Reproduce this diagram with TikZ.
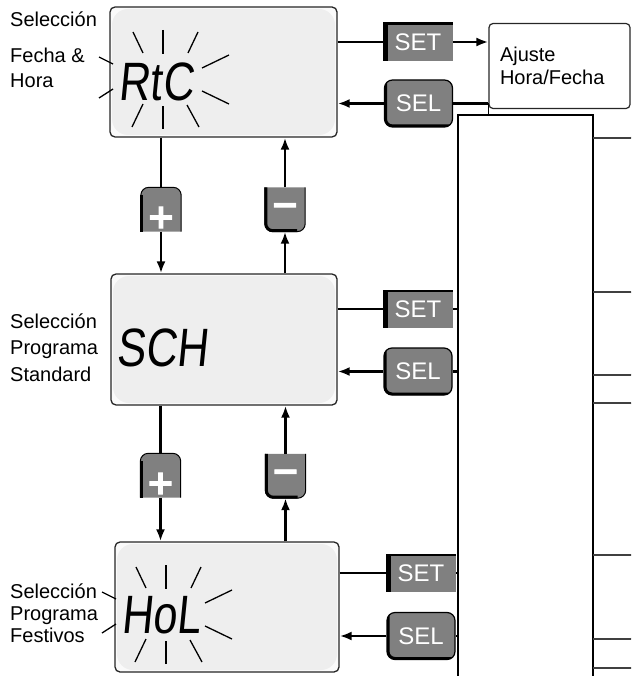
\documentclass[tikz,border=0pt]{standalone}
\usepackage{fontspec}
\setmainfont{Liberation Sans}
\newfontfamily\lcdfont[FakeStretch=0.8,FakeSlant=0.1]{Liberation Sans}
\newfontfamily\keyfont[BoldFeatures={FakeBold=2.5}]{DejaVu Sans}
\usetikzlibrary{arrows.meta,calc}

\definecolor{keygray}{HTML}{808080}
\definecolor{lcdgray}{HTML}{EEEEEE}
\definecolor{lcdrim}{HTML}{FAFAFA}

% +/- keys: gray cap, rounded on one side, dark shadow on the left
\newcommand{\pluskey}[2]{%
  \node[keybox] (#1) at (#2) {};
  \filldraw[fill=keygray, draw=black, line width=1pt]
    (#1.south west) -- ([yshift=-8pt]#1.north west)
    arc[start angle=180, end angle=90, radius=8pt]
    -- ([xshift=-8pt]#1.north east)
    arc[start angle=90, end angle=0, radius=8pt]
    -- (#1.south east);
  \draw[line width=3pt] ([xshift=1pt]#1.south west) -- ([xshift=1pt,yshift=-8pt]#1.north west);
  \node[keyglyph] (#1-sign) at ([yshift=-8pt]#1.center) {+};
}
\newcommand{\minuskey}[2]{%
  \node[keybox] (#1) at (#2) {};
  \filldraw[fill=keygray, draw=black, line width=1pt]
    (#1.north west) -- ([yshift=8pt]#1.south west)
    arc[start angle=180, end angle=270, radius=8pt]
    -- ([xshift=-8pt]#1.south east)
    arc[start angle=270, end angle=360, radius=8pt]
    -- (#1.north east);
  \draw[line width=3pt] ([xshift=1pt]#1.north west) -- ([xshift=1pt,yshift=8pt]#1.south west)
    arc[start angle=180, end angle=270, radius=7pt] -- ([xshift=-8pt,yshift=1pt]#1.south east);
  \node[keyglyph] (#1-sign) at (#1.center) {−};
}
% flashing rays round a display text
\newcommand{\blink}[1]{%
  \foreach \xa/\ya/\xb/\yb in {0/-50/0/-26, -30/-48/-20/-27, 35/-48/25/-27,
      66/-25/39/-12, 66/24/39/11, -31/47/-20/24, 0/49/0/26, 36/47/24/25,
      -64/-23/-50/-16, -64/18/-50/9}
    \draw[ray] ($(#1)+(\xa,\ya)$) -- ($(#1)+(\xb,\yb)$);
}

\begin{document}
\begin{tikzpicture}[
    x=1pt, y=-1pt,
    lbl/.style={font=\fontsize{20}{24}\selectfont, align=left, inner sep=0pt, anchor=north west},
    lcd/.style={draw=black!85, line width=1.3pt, rounded corners=5pt, fill=lcdrim,
      path picture={\fill[lcdgray, rounded corners=16pt]
        ([shift={(2pt,-2pt)}]path picture bounding box.north west) rectangle
        ([shift={(-2pt,2pt)}]path picture bounding box.south east);}},
    segtext/.style={font=\lcdfont\fontsize{54}{54}\selectfont, inner sep=0pt},
    setkey/.style={fill=keygray, text=white, font=\fontsize{24}{24}\selectfont, inner sep=0pt,
      minimum width=70pt, minimum height=38pt,
      path picture={\draw[line width=9pt] (path picture bounding box.south west) -- (path picture bounding box.north west);
        \draw[line width=4pt] (path picture bounding box.north west) -- (path picture bounding box.north east);}},
    selkey/.style={fill=keygray, draw=black, line width=1.2pt, rounded corners=8pt, text=white,
      font=\fontsize{24}{24}\selectfont, inner sep=0pt, minimum width=68pt, minimum height=47pt,
      path picture={\draw[line width=5pt] (path picture bounding box.north west) -- (path picture bounding box.south west) -- (path picture bounding box.south east);}},
    keybox/.style={minimum width=40pt, minimum height=44pt, inner sep=0pt},
    keyglyph/.style={text=white, font=\keyfont\bfseries\fontsize{34}{34}\selectfont, inner sep=0pt},
    plainbox/.style={draw=black!85, line width=1.2pt, rounded corners=4pt},
    frame/.style={draw, line width=1.8pt},
    stub/.style={draw=black!75, line width=1.6pt},
    link/.style={line width=2.6pt},
    arrow/.style={link, -{Latex[length=12pt,width=9pt]}},
    ray/.style={line width=1.3pt},
  ]
  \useasboundingbox (0,0) rectangle (631,676);
  \clip (0,0) rectangle (631,676);

  % displays
  \node[lcd, minimum width=227pt, minimum height=130pt] (lcdA) at (223.5,72) {};
  \node[lcd, minimum width=226pt, minimum height=131pt] (lcdB) at (224,339.5) {};
  \node[lcd, minimum width=224pt, minimum height=130pt] (lcdC) at (227,607) {};
  \node[segtext] (rtc) at (156,82) {RtC};
  \node[segtext] (sch) at (162,347.5) {SCH};
  \node[segtext] (hol) at (161,615) {HoL};
  \coordinate (rtcmid) at (163,80);
  \coordinate (holmid) at (166,615);
  \blink{rtcmid}
  \blink{holmid}

  % side labels
  \node[lbl] (tagA) at (10,12) {Selección};
  \node[lbl, font=\fontsize{20}{25}\selectfont] (tagB) at (10,47.5) {Fecha \&\\Hora};
  \node[lbl, font=\fontsize{20}{26.5}\selectfont] (tagC) at (10,313.5) {Selección\\Programa\\Standard};
  \node[lbl, font=\fontsize{20}{22}\selectfont] (tagD) at (10,583.5) {Selección\\Programa\\Festivos};

  % right hand blocks
  \node[plainbox, text width=119pt, align=left, inner xsep=11pt, minimum height=85pt,
        font=\fontsize{20}{23}\selectfont] (ajuste) at (559.5,66) {Ajuste\\Hora/Fecha};
  \node[frame, minimum width=135pt, minimum height=585pt] (bigbox) at (525.5,407.5) {};
  \foreach \y/\s in {138/-1, 292/1, 375/-1, 403/1, 639/-1}
    \draw[stub, rounded corners=4pt] (593,\y) -- (634.5,\y) -- (634.5,\y+10*\s);
  \foreach \y in {555, 668}
    \draw[stub] (593,\y) -- (632,\y);

  % keys
  \node[setkey] (setA) at (418,42) {SET};
  \node[selkey] (selA) at (418.5,103.5) {SEL};
  \node[setkey] (setB) at (418,309) {SET};
  \node[selkey] (selB) at (418,371.5) {SEL};
  \node[setkey] (setC) at (421,573) {SET};
  \node[selkey] (selC) at (421,636) {SEL};
  \pluskey{plusA}{161,209.5}
  \minuskey{minusA}{285,209.5}
  \pluskey{plusB}{160.5,475.5}
  \minuskey{minusB}{285.5,476}

  % up / down
  \draw[link] (lcdA.south -| plusA) -- (plusA);
  \draw[arrow] (plusA) -- (plusA |- lcdB.north);
  \draw[arrow] (minusA |- lcdB.north) -- (minusA);
  \draw[arrow] (minusA) -- (minusA |- lcdA.south);
  \draw[link] (lcdB.south -| plusB) -- (plusB);
  \draw[arrow] (plusB) -- (plusB |- lcdC.north);
  \draw[arrow] (minusB |- lcdC.north) -- (minusB);
  \draw[arrow] (minusB) -- (minusB |- lcdB.south);

  % set / sel
  \draw[link] (lcdA.east |- setA) -- (setA);
  \draw[arrow] (setA) -- (setA -| ajuste.west);
  \draw[line width=1.2pt] (ajuste.west |- bigbox.north) -- (ajuste.west |- selA);
  \draw[link] (ajuste.west |- selA) -- (selA);
  \draw[arrow] (selA) -- (selA -| lcdA.east);
  \draw[link] (lcdB.east |- setB) -- (setB) -- (setB -| bigbox.west);
  \draw[arrow] (selB -| bigbox.west) -- (selB) -- (selB -| lcdB.east);
  \draw[link] (lcdC.east |- setC) -- (setC) -- (setC -| bigbox.west);
  \draw[arrow] (selC -| bigbox.west) -- (selC) -- (selC -| lcdC.east);
\end{tikzpicture}
\end{document}
